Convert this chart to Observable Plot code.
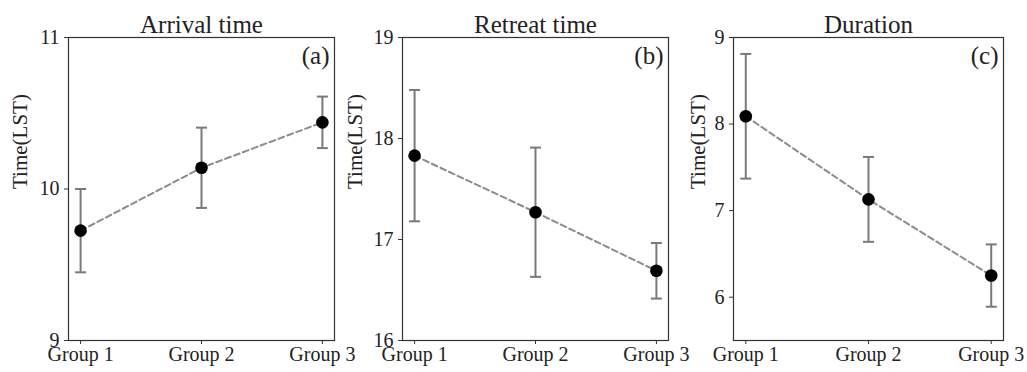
<!DOCTYPE html>
<html>
<head>
<meta charset="utf-8">
<script src="https://cdn.jsdelivr.net/npm/d3@7"></script>
<script src="https://cdn.jsdelivr.net/npm/@observablehq/plot@0.6"></script>
<style>
  html, body { margin: 0; padding: 0; background: #fff; }
  #wrap { position: relative; width: 1027px; height: 372px; overflow: hidden; }
  #wrap > svg { position: absolute; top: 0; overflow: visible; }
</style>
</head>
<body>
<div id="wrap"></div>
<script>
// Group labels along the x axis
const groups = ["Group 1", "Group 2", "Group 3"];

// Mean time (LST) per group and its error half-width
const arrivalMean = [9.725, 10.14, 10.44];
const arrivalErr  = [0.275, 0.265, 0.17];

const retreatMean = [17.83, 17.27, 16.69];
const retreatErr  = [0.65, 0.64, 0.275];

const durationMean = [8.09, 7.13, 6.25];
const durationErr  = [0.72, 0.49, 0.36];

// Panel titles, tags, y domains and y ticks
const titles = ["Arrival time", "Retreat time", "Duration"];
const tags = ["(a)", "(b)", "(c)"];
const yDomains = [[9, 11], [16, 19], [5.5, 9]];
const yTicks = [[9, 10, 11], [16, 17, 18, 19], [6, 7, 8, 9]];

const means = [arrivalMean, retreatMean, durationMean];
const errs = [arrivalErr, retreatErr, durationErr];

// Layout of the three panels within the page
const panels = [
  {left: 0,   width: 340, marginLeft: 68, marginRight: 6,  labelDx: -48},
  {left: 340, width: 340, marginLeft: 62, marginRight: 12, labelDx: -47},
  {left: 680, width: 347, marginLeft: 53, marginRight: 24, labelDx: -35}
];

const font = "'Liberation Serif', 'Times New Roman', serif";
const barColor = "#7a7a7a";

// horizontal cap for the error bars, fixed pixel width
const capSymbol = {
  draw(ctx) {
    ctx.moveTo(-5.5, 0);
    ctx.lineTo(5.5, 0);
  }
};

const wrap = document.getElementById("wrap");

panels.forEach((p, k) => {
  const data = groups.map((g, i) => ({
    i,
    group: g,
    mean: means[k][i],
    lo: means[k][i] - errs[k][i],
    hi: means[k][i] + errs[k][i]
  }));

  const chart = Plot.plot({
    width: p.width,
    height: 372,
    marginLeft: p.marginLeft,
    marginRight: p.marginRight,
    marginTop: 37,
    marginBottom: 32,
    style: {background: "transparent", fontFamily: font, fontSize: "20px", color: "#222", overflow: "visible"},
    x: {type: "linear", domain: [-0.1, 2.1]},
    y: {domain: yDomains[k]},
    marks: [
      Plot.frame({stroke: "#333", strokeWidth: 1.2}),
      Plot.axisX({
        ticks: [0, 1, 2],
        tickFormat: (d) => groups[d],
        tickSize: 4,
        tickPadding: 2,
        fontSize: 20,
        stroke: "#333",
        label: null
      }),
      Plot.axisY({
        ticks: yTicks[k],
        tickFormat: (d) => String(d),
        tickSize: 4,
        tickPadding: 5,
        fontSize: 20,
        stroke: "#333",
        label: null
      }),
      // y axis title
      Plot.text(["Time(LST)"], {
        frameAnchor: "left",
        rotate: -90,
        dx: p.labelDx,
        fontSize: 21,
        fill: "#222"
      }),
      // panel title
      Plot.text([titles[k]], {
        frameAnchor: "top",
        lineAnchor: "bottom",
        dy: -5,
        fontSize: 25,
        fill: "#222"
      }),
      // panel tag
      Plot.text([tags[k]], {
        frameAnchor: "top-right",
        lineAnchor: "top",
        textAnchor: "end",
        dx: -5,
        dy: 9,
        fontSize: 25,
        fill: "#222"
      }),
      // error bars
      Plot.ruleX(data, {x: "i", y1: "lo", y2: "hi", stroke: barColor, strokeWidth: 2}),
      Plot.dot(data, {x: "i", y: "lo", symbol: capSymbol, stroke: barColor, strokeWidth: 2, r: 5}),
      Plot.dot(data, {x: "i", y: "hi", symbol: capSymbol, stroke: barColor, strokeWidth: 2, r: 5}),
      // connecting dashed line
      Plot.line(data, {x: "i", y: "mean", stroke: "#8c8c8c", strokeWidth: 2, strokeDasharray: "6,3.5"}),
      // means
      Plot.dot(data, {x: "i", y: "mean", r: 6.3, fill: "#000", stroke: "none"})
    ]
  });
  chart.style.left = p.left + "px";
  wrap.appendChild(chart);
});
</script>
</body>
</html>
